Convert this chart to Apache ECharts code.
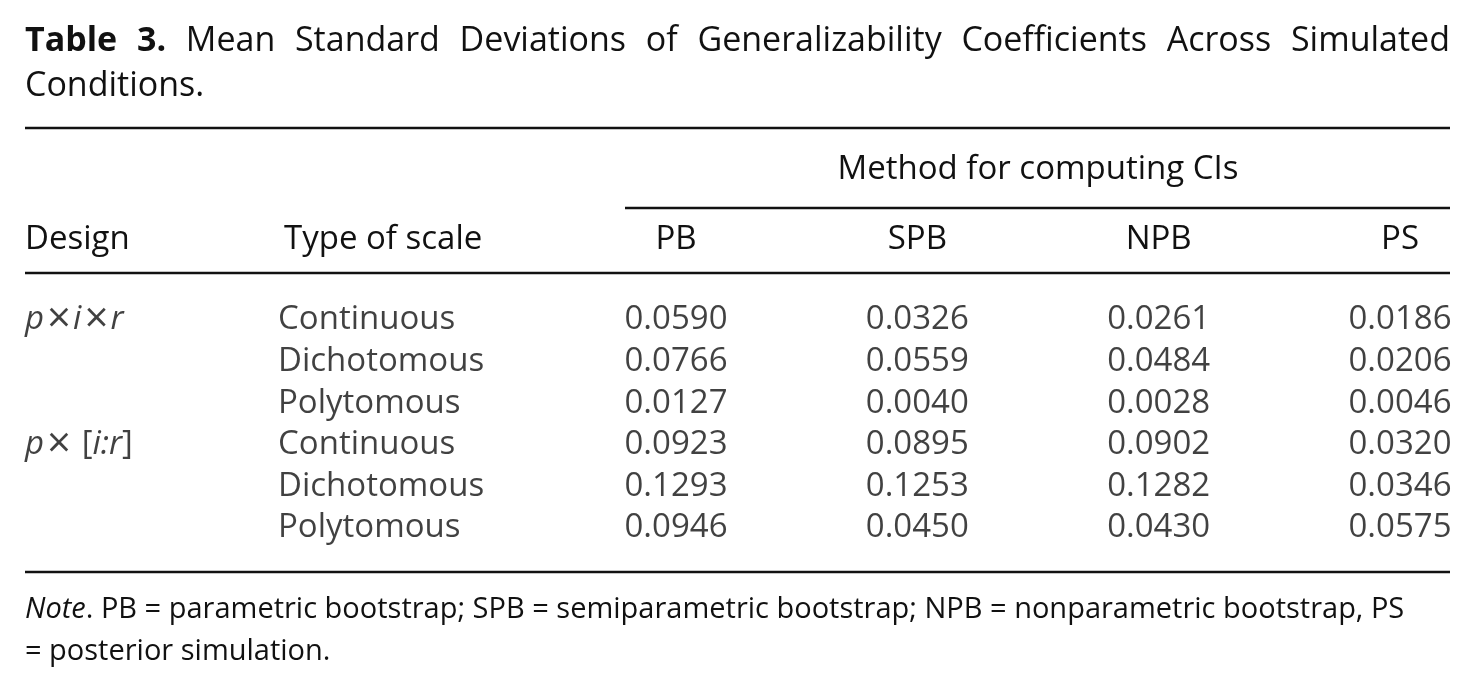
<!DOCTYPE html>
<html>
<head>
<meta charset="utf-8">
<script src="https://cdn.jsdelivr.net/npm/echarts@6/dist/echarts.min.js"></script>
<style>
  html, body { margin: 0; padding: 0; background: #fff; }
  #main { width: 1477px; height: 694px; }
</style>
</head>
<body>
<div id="main"></div>
<script>
// table contents
const designs = ['{i|p}{m|×}{i|i}{m|×}{i|r}', '', '', '{i|p}{m|×} [{i|i:r}]', '', ''];
const scales = ['Continuous', 'Dichotomous', 'Polytomous', 'Continuous', 'Dichotomous', 'Polytomous'];
const methods = ['PB', 'SPB', 'NPB', 'PS'];
const pb = [0.0590, 0.0766, 0.0127, 0.0923, 0.1293, 0.0946];
const spb = [0.0326, 0.0559, 0.0040, 0.0895, 0.1253, 0.0450];
const npb = [0.0261, 0.0484, 0.0028, 0.0902, 0.1282, 0.0430];
const ps = [0.0186, 0.0206, 0.0046, 0.0320, 0.0346, 0.0575];
const leftHeads = ['Design', 'Type of scale'];

const FONT = '"Open Sans", Lato, sans-serif';
const INK = '#111';
const SIZE = 33;     // table body
const TSIZE = 34;    // caption
const NSIZE = 29;    // note

const chart = echarts.init(document.getElementById('main'));

// justified first line of the caption
function captionWords() {
    const words = ['Table', '3.', 'Mean', 'Standard', 'Deviations', 'of', 'Generalizability',
        'Coefficients', 'Across', 'Simulated'];
    const ctx = document.createElement('canvas').getContext('2d');
    const widths = words.map(function (w, i) {
        ctx.font = (i < 2 ? 'bold ' : '') + TSIZE + 'px ' + FONT;
        return ctx.measureText(w).width;
    });
    const total = widths.reduce(function (a, b) { return a + b; }, 0);
    const gap = (1450 - 25 - total) / (words.length - 1);
    let x = 25;
    return words.map(function (w, i) {
        const el = {
            type: 'text', x: x, y: 41,
            style: {
                text: w, font: (i < 2 ? 'bold ' : '') + TSIZE + 'px ' + FONT,
                fill: INK, verticalAlign: 'middle'
            }
        };
        x += widths[i] + gap;
        return el;
    });
}

function rule(y, x1, x2) {
    return {
        type: 'line', shape: { x1: x1, y1: y, x2: x2, y2: y },
        style: { stroke: INK, lineWidth: 2.5 }
    };
}

const rowIdx = scales.map(function (_, i) { return i; });
const cols = [pb, spb, npb, ps];

const labelStyle = { fontFamily: FONT, fontSize: SIZE, color: INK };

const option = {
    backgroundColor: '#fff',
    animation: false,
    grid: [
        { left: 25, right: 1477 - 278, top: 320, bottom: 166 },
        { left: 676, right: 1477 - 1400, top: 320, bottom: 166 }
    ],
    xAxis: [
        {
            gridIndex: 0, type: 'category', data: leftHeads, boundaryGap: false, position: 'top',
            axisLine: { show: false }, axisTick: { show: false }, splitLine: { show: false },
            axisLabel: Object.assign({
                margin: 80, align: 'left', verticalAlign: 'middle', interval: 0, hideOverlap: false,
                formatter: function (v, i) { return i === 1 ? '{h|' + v + '}' : v; },
                rich: { h: { fontFamily: FONT, fontSize: SIZE, color: INK, padding: [0, 0, 0, 6] } }
            }, labelStyle)
        },
        {
            gridIndex: 1, type: 'category', data: methods, boundaryGap: false, position: 'top',
            axisLine: { show: false }, axisTick: { show: false }, splitLine: { show: false },
            axisLabel: Object.assign({ margin: 80, verticalAlign: 'middle', interval: 0 }, labelStyle),
            name: 'Method for computing CIs', nameLocation: 'middle', nameGap: 150,
            nameTextStyle: Object.assign({ verticalAlign: 'middle' }, labelStyle)
        }
    ],
    yAxis: [0, 1].map(function (g) {
        return {
            gridIndex: g, type: 'category', data: rowIdx, inverse: true, boundaryGap: false,
            show: false
        };
    }),
    series: [
        {
            type: 'scatter', xAxisIndex: 0, yAxisIndex: 0, symbolSize: 0, silent: true,
            data: designs.map(function (d, i) { return { value: [0, i], name: d }; }),
            label: {
                show: true, position: 'inside', align: 'left', verticalAlign: 'middle',
                formatter: function (p) { return p.name; },
                fontFamily: FONT, fontSize: SIZE, color: INK,
                rich: {
                    i: { fontFamily: FONT, fontSize: SIZE, fontStyle: 'italic', color: INK },
                    m: { fontFamily: FONT, fontSize: 42, color: INK, padding: [0, 2, 0, 3] }
                }
            }
        },
        {
            type: 'scatter', xAxisIndex: 0, yAxisIndex: 0, symbolSize: 0, silent: true,
            data: scales.map(function (s, i) { return { value: [1, i], name: s }; }),
            label: {
                show: true, position: 'inside', align: 'left', verticalAlign: 'middle',
                formatter: function (p) { return p.name; }, fontFamily: FONT, fontSize: SIZE, color: INK
            }
        }
    ].concat(cols.map(function (col, c) {
        return {
            type: 'scatter', xAxisIndex: 1, yAxisIndex: 1, symbolSize: 0, silent: true,
            data: col.map(function (v, i) { return [c, i, v]; }),
            label: {
                show: true, position: 'inside', align: 'center', verticalAlign: 'middle',
                formatter: function (p) { return p.value[2].toFixed(4); },
                fontFamily: FONT, fontSize: SIZE, color: INK
            }
        };
    })),
    graphic: captionWords().concat([
        {
            type: 'text', x: 25, y: 86,
            style: { text: 'Conditions.', font: TSIZE + 'px ' + FONT, fill: INK, verticalAlign: 'middle' }
        },
        rule(128, 25, 1450),
        rule(208, 625, 1450),
        rule(273, 25, 1450),
        rule(572, 25, 1450),
        {
            type: 'text', x: 25, y: 610,
            style: {
                text: '{i|Note}. PB = parametric bootstrap; SPB = semiparametric bootstrap; NPB = nonparametric bootstrap, PS',
                font: NSIZE + 'px ' + FONT, fill: INK, verticalAlign: 'middle',
                rich: { i: { fontStyle: 'italic', fontFamily: FONT, fontSize: NSIZE, fill: INK } }
            }
        },
        {
            type: 'text', x: 25, y: 652,
            style: { text: '= posterior simulation.', font: NSIZE + 'px ' + FONT, fill: INK, verticalAlign: 'middle' }
        }
    ])
};

chart.setOption(option);
</script>
</body>
</html>
